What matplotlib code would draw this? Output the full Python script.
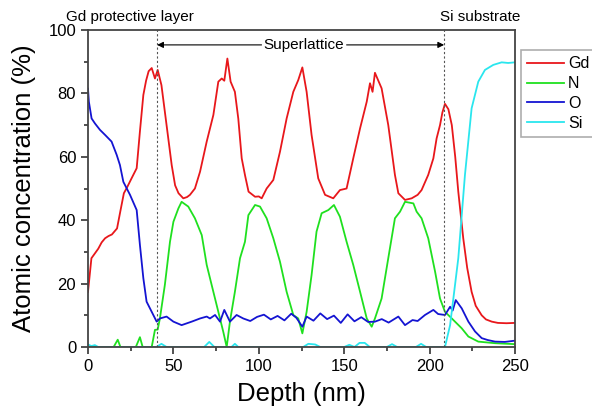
import matplotlib
matplotlib.use("Agg")
import matplotlib.pyplot as plt
from matplotlib.ticker import MultipleLocator

plt.rcParams["font.family"] = ["Liberation Sans", "DejaVu Sans"]

# depth profile data (depth in nm, concentration in %)
gd_depth = [0, 2, 4, 6, 8, 10, 12, 14, 17, 19, 21, 23, 25.5, 28.5, 30.4, 32.4, 34, 35.5,
            37.3, 39.2, 40.8, 43, 46, 49, 51, 53, 55.8, 58, 59.7, 62.6, 65.6, 69.5, 73.4,
            76.3, 78.3, 79.8, 81.6, 83.5, 86, 88, 90, 92, 94, 97.8, 100, 101.7, 104.6,
            108.5, 112.4, 116.3, 120.2, 123.1, 125.5, 128, 130.9, 134.8, 138.8, 143.6,
            147.5, 151.4, 155.3, 159.3, 163.2, 165.1, 166.6, 168, 171.9, 175.8, 179.7,
            181.7, 185.6, 189.5, 193, 195.3, 199.2, 202.2, 204.1, 206.1, 207.5, 209, 211,
            213, 215, 216.8, 219.7, 222, 224.6, 227, 230.5, 233, 236.4, 240, 245, 250]
gd_conc = [17.4, 28, 29.5, 31, 33, 34.3, 35, 35.5, 37.4, 43, 48.5, 50.5, 53.2, 56.4, 68,
           79.5, 84, 87, 88, 84.7, 87.4, 82.6, 70, 57.4, 51, 48.5, 46.9, 47.3, 48, 50, 55.3,
           64.8, 73.2, 83.7, 84.7, 84, 91, 83.7, 80.5, 72, 59.5, 54, 49, 47.4, 47.5, 46.9,
           50, 52.7, 61.6, 72.1, 80.5, 84.2, 88.2, 80.5, 66.9, 53.2, 48, 46.9, 49.5, 50,
           59.5, 69, 77.4, 83.2, 80.5, 86.5, 81.6, 70, 54.3, 48.5, 46.4, 46.9, 48, 49.5,
           54.3, 59.5, 65.8, 70, 74, 76.7, 75, 70, 60, 49, 34.3, 25, 17.4, 13, 10, 8.7, 8,
           7.6, 7.5, 7.6]

n_depth = [0, 15, 17.4, 19, 28, 30.4, 32, 37.3, 39.2, 40.8, 42.1, 45, 48, 50, 52.9, 54.8,
           58.7, 62.6, 66.6, 69.5, 73.4, 76.3, 79.2, 81.2, 83.1, 86, 89, 91.9, 93.9, 97.8,
           100.7, 104.6, 108.5, 112.4, 116.3, 120.2, 123.1, 125.5, 128, 130.9, 133.8, 136.8,
           140.7, 144, 147.5, 151.4, 155.3, 159.3, 163.2, 166.1, 168, 171.9, 175.8, 179.7,
           182.7, 185.6, 190.5, 192.4, 195.3, 199.2, 203.2, 206.1, 209, 213, 218.8, 222.7,
           228.5, 238.3, 250]
n_conc = [0, 0, 2.3, 0, 0, 3.1, 0, 0, 5.4, 5.5, 9, 19.6, 33.2, 39.5, 43.7, 45.8, 44.3,
          40.6, 35.3, 25.9, 17.4, 11.1, 4.8, 0, 8, 17.4, 28, 33.2, 41.6, 44.8, 44.3, 40.6,
          34.3, 26.9, 17.4, 10.1, 9, 4.3, 11.1, 22.7, 36.4, 42.2, 43.2, 44.8, 41.1, 33.2,
          25.9, 17.4, 9, 6.4, 9, 15.3, 28, 40.6, 42.7, 45.8, 45.3, 42.7, 40.6, 34.3, 23.8,
          15.3, 11.1, 9, 5.9, 3.3, 1.7, 1.2, 0.9]

o_depth = [0, 0.5, 2.1, 4.1, 7, 10, 13.8, 16.8, 18.7, 20.7, 24.6, 28.5, 30.4, 32.4, 34.3,
           37.3, 40.2, 42.1, 46, 50, 54.8, 60.7, 65.6, 69.5, 71.4, 74.4, 77.3, 79.8, 83.1,
           87, 90.9, 95, 99, 103, 107, 111, 115, 119, 122, 125.5, 128, 132, 136, 140, 144,
           148, 152, 156, 160, 164, 168, 172, 176, 181.7, 185.6, 190, 193, 197.3, 202.2,
           205, 209, 212, 213.5, 215.3, 218.8, 222.7, 226.6, 230.5, 234, 238.3, 244, 250]
o_conc = [81.5, 77.4, 72.1, 70.5, 68.5, 66.9, 64.8, 60.6, 57.4, 52.1, 48, 43.2, 32.2,
          21.7, 14.3, 11.1, 8, 9, 9.6, 8, 6.9, 8, 9, 9.6, 9, 10.1, 8, 11.7, 8, 10.1, 9,
          8.2, 9.5, 10.2, 8.7, 9.8, 8.4, 10.5, 9.2, 6.4, 9.6, 8.3, 10.6, 8.8, 9.9, 7.6,
          10.3, 8.1, 9.4, 7.9, 8, 8.8, 7.7, 9.6, 6.9, 8.5, 8.2, 10.1, 11.7, 10.4, 10.1,
          12.7, 11.5, 14.8, 12.2, 8, 4.9, 2.8, 2.2, 1.7, 1.6, 2]

si_depth = [0, 2, 4, 6, 8, 40, 43, 46, 68, 71, 74, 84, 86, 88, 126, 129, 133, 136, 150,
            153, 156, 159, 162, 165, 175, 178, 181, 192, 195, 198, 209, 212, 216.8, 220.7,
            224.6, 228.5, 232.4, 237.3, 242.2, 246, 250]
si_conc = [0.8, 0.3, 0.6, 0, 0, 0, 1, 0, 0, 1.6, 0, 0, 1, 0, 0, 1, 0.8, 0, 0, 0.7, 0, 1.3,
           1.3, 0, 0, 0.9, 0, 0, 1, 0, 0, 6.9, 28, 54.3, 75.3, 83.7, 87.4, 89, 89.8, 89.6,
           89.8]

series_names = ["Gd", "N", "O", "Si"]
series_colors = ["#e8171b", "#1fe01f", "#1414d2", "#2ae6ee"]

interface_depths = [40.5, 208.5]

fig = plt.figure(figsize=(5.92, 4.09), dpi=100)
ax = fig.add_axes([88 / 592, 62 / 409, 427 / 592, 317 / 409])

ax.plot(gd_depth, gd_conc, color=series_colors[0], lw=1.3, label=series_names[0])
ax.plot(n_depth, n_conc, color=series_colors[1], lw=1.3, label=series_names[1])
ax.plot(o_depth, o_conc, color=series_colors[2], lw=1.3, label=series_names[2])
ax.plot(si_depth, si_conc, color=series_colors[3], lw=1.3, label=series_names[3])

for d in interface_depths:
    ax.axvline(d, color="#555555", lw=0.8, ls=(0, (2, 2)))

# superlattice arrows
arrow_kw = dict(arrowstyle="-|>", color="black", lw=0.8, mutation_scale=9,
                shrinkA=0, shrinkB=0)
ax.annotate("", xy=(interface_depths[0], 95.3), xytext=(101.6, 95.3), arrowprops=arrow_kw)
ax.annotate("", xy=(interface_depths[1], 95.3), xytext=(151.4, 95.3), arrowprops=arrow_kw)
ax.text(126.5, 95.3, "Superlattice", ha="center", va="center", fontsize=11)

ax.text(24.5, 104, "Gd protective layer", ha="center", va="center", fontsize=11,
        clip_on=False)
ax.text(229.5, 104, "Si substrate", ha="center", va="center", fontsize=11,
        clip_on=False)

ax.set_xlim(0, 250)
ax.set_ylim(0, 100)
ax.xaxis.set_major_locator(MultipleLocator(50))
ax.xaxis.set_minor_locator(MultipleLocator(25))
ax.yaxis.set_major_locator(MultipleLocator(20))
ax.yaxis.set_minor_locator(MultipleLocator(10))
ax.tick_params(which="both", direction="out", width=1.2, color="#333333",
               labelsize=12)
ax.tick_params(which="major", length=5)
ax.tick_params(which="minor", length=3)
for sp in ax.spines.values():
    sp.set_linewidth(1.3)
    sp.set_color("#444444")

ax.set_xlabel("Depth (nm)", fontsize=18.5, labelpad=6)
ax.set_ylabel("Atomic concentration (%)", fontsize=18.5, labelpad=9)

leg = ax.legend(loc="upper left", bbox_to_anchor=(521 / 592, 1 - 50 / 409),
                bbox_transform=fig.transFigure, frameon=True, fancybox=False,
                fontsize=11.5, handlelength=2.3, handletextpad=0.25,
                borderaxespad=0, borderpad=0.4, labelspacing=0.3)
leg.get_frame().set_edgecolor("#999999")
leg.get_frame().set_linewidth(1.2)

fig.savefig("out.png", dpi=100)
